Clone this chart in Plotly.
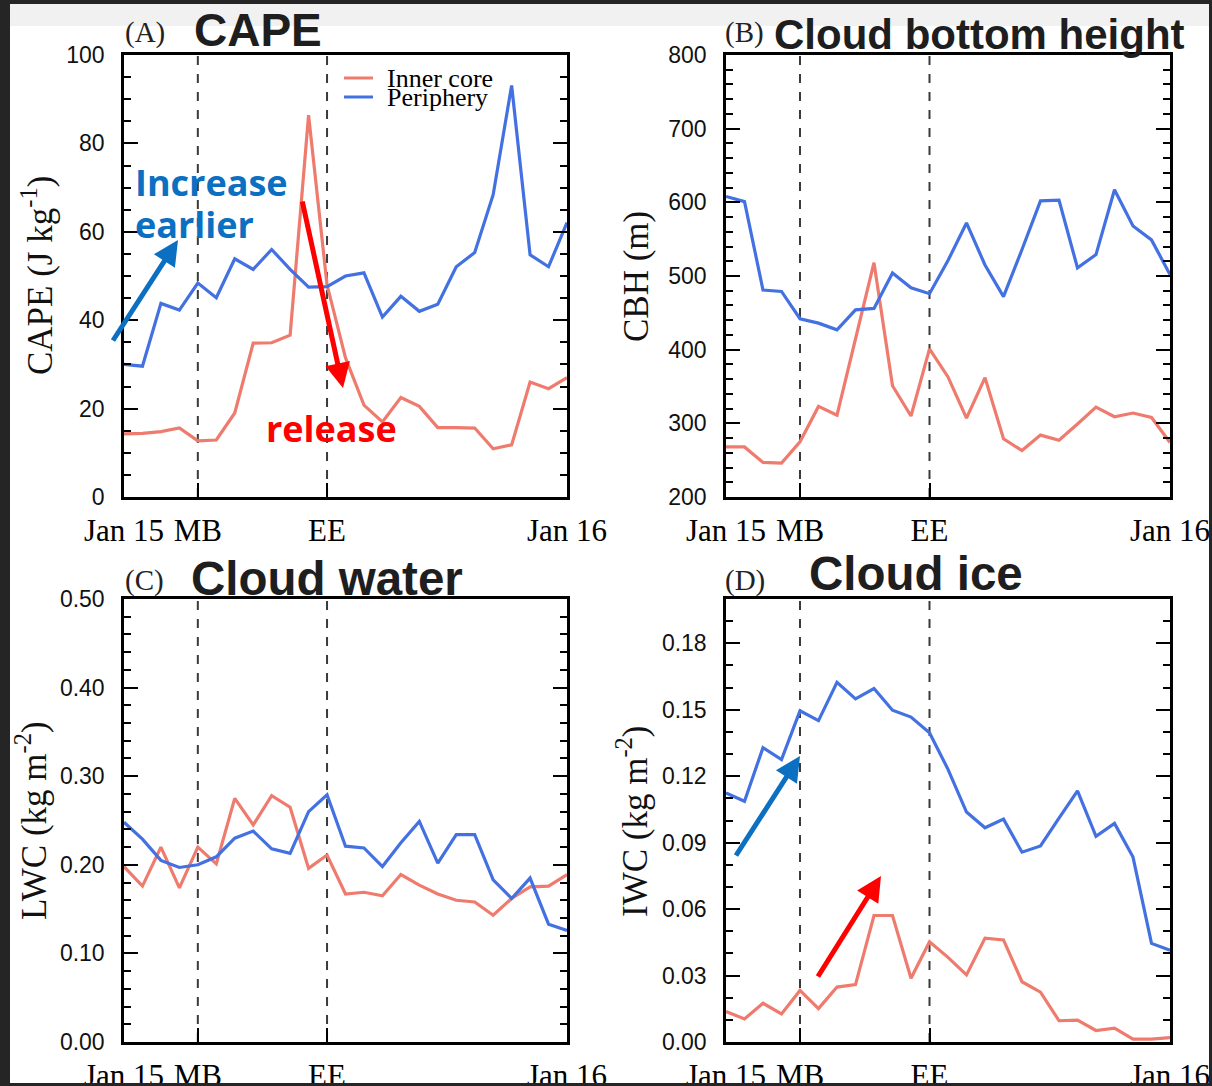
import plotly.graph_objects as go

W, H = 1212, 1086

# ---------------- data (hourly, Jan 15 00 UTC -> Jan 16 00 UTC) ----------------
hours = list(range(25))
MB_HOUR = 4
EE_HOUR = 11
x_tickvals = [0, MB_HOUR, EE_HOUR, 24]
x_ticktext = ["Jan 15", "MB", "EE", "Jan 16"]

cape_inner = [14.3, 14.4, 14.8, 15.6, 12.7, 12.9, 19.0, 34.8, 34.9, 36.6, 86.4, 48.0,
              31.5, 20.8, 17.0, 22.5, 20.5, 15.7, 15.7, 15.6, 10.9, 11.8, 26.0, 24.5, 27.0]
cape_peri = [30.0, 29.6, 43.8, 42.3, 48.4, 45.1, 53.9, 51.5, 56.0, 51.5, 47.5, 47.6,
             50.0, 50.7, 40.7, 45.4, 42.0, 43.6, 52.1, 55.3, 68.4, 93.1, 54.8, 52.1, 62.1]

cbh_inner = [268, 268, 247, 246, 275, 323, 311, 415, 518, 351, 310, 401,
             363, 307, 362, 279, 263, 284, 277, 299, 322, 309, 314, 308, 274]
cbh_peri = [608, 601, 481, 479, 442, 436, 427, 454, 456, 504, 484, 476,
            521, 572, 515, 472, 536, 602, 603, 511, 529, 617, 568, 549, 502]

lwc_inner = [0.198, 0.176, 0.220, 0.174, 0.220, 0.201, 0.275, 0.245, 0.278, 0.265, 0.196, 0.211,
             0.167, 0.169, 0.165, 0.189, 0.177, 0.167, 0.160, 0.158, 0.143, 0.162, 0.175, 0.176, 0.189]
lwc_peri = [0.248, 0.229, 0.205, 0.197, 0.200, 0.209, 0.230, 0.238, 0.218, 0.213, 0.260, 0.279,
            0.221, 0.219, 0.198, 0.225, 0.249, 0.202, 0.234, 0.234, 0.183, 0.162, 0.185, 0.133, 0.126]

iwc_inner = [0.0138, 0.0104, 0.0175, 0.0127, 0.0233, 0.0151, 0.0248, 0.0259, 0.0571, 0.0571, 0.0288, 0.0453,
             0.0382, 0.0303, 0.0469, 0.0461, 0.0272, 0.0225, 0.0096, 0.0099, 0.0052, 0.0063, 0.0013, 0.0013, 0.0020]
iwc_peri = [0.1124, 0.1087, 0.1329, 0.1275, 0.1495, 0.1451, 0.1624, 0.1549, 0.1596, 0.1498, 0.1467, 0.1396,
            0.1231, 0.1038, 0.0967, 0.1006, 0.0857, 0.0885, 0.1011, 0.1134, 0.0929, 0.0987, 0.0835, 0.0445, 0.0414]

series_names = ["Inner core", "Periphery"]

# ---------------- styling ----------------
RED = "#ee7b6d"
BLUE = "#4371e2"
SERIF = "Liberation Serif"
SANS = "Liberation Sans"


def px(x):
    return x / W


def py(y):
    return 1 - y / H


# panel boxes in pixels: (left, right, top, bottom)
boxes = {
    "A": (124, 567, 55, 497),
    "B": (726, 1170, 55, 497),
    "C": (124, 567, 599, 1042),
    "D": (726, 1170, 599, 1042),
}

panels = [
    ("A", cape_inner, cape_peri, [0, 100], 20, 5, None),
    ("B", cbh_inner, cbh_peri, [200, 800], 100, 20, None),
    ("C", lwc_inner, lwc_peri, [0, 0.5], 0.1, 0.02, ".2f"),
    ("D", iwc_inner, iwc_peri, [0, 0.2], 0.03, 0.01, ".2f"),
]

fig = go.Figure()
layout = dict(
    width=W, height=H, autosize=False,
    margin=dict(l=0, r=0, t=0, b=0, pad=0, autoexpand=False),
    paper_bgcolor="white",
    plot_bgcolor="white",
    showlegend=False,
)

shapes = []
annotations = []

for i, (key, inner, peri, yr, dt, mdt, fmt) in enumerate(panels):
    n = "" if i == 0 else str(i + 1)
    xa, ya = "x" + n, "y" + n
    l, r, t, b = boxes[key]
    fig.add_trace(go.Scatter(x=hours, y=inner, mode="lines", name=series_names[0],
                             line=dict(color=RED, width=3.2), xaxis=xa, yaxis=ya))
    fig.add_trace(go.Scatter(x=hours, y=peri, mode="lines", name=series_names[1],
                             line=dict(color=BLUE, width=3.2), xaxis=xa, yaxis=ya))
    layout["xaxis" + n] = dict(
        domain=[px(l), px(r)], anchor=ya, range=[0, 24], automargin=False,
        tickmode="array", tickvals=x_tickvals, ticktext=x_ticktext,
        ticks="inside", ticklen=14, tickwidth=2, tickcolor="black",
        showline=True, linecolor="black", linewidth=2.5, mirror=True,
        showgrid=False, zeroline=False,
        tickfont=dict(family=SERIF, size=31, color="black"),
        ticklabelstandoff=4,
    )
    yd = dict(
        domain=[py(b), py(t)], anchor=xa, range=yr, automargin=False,
        tickmode="linear", tick0=yr[0], dtick=dt,
        ticks="inside", ticklen=14, tickwidth=2, tickcolor="black",
        minor=dict(ticks="inside", ticklen=7, tickwidth=1.5, tickcolor="black", dtick=mdt, tick0=yr[0]),
        showline=True, linecolor="black", linewidth=2.5, mirror="allticks",
        showgrid=False, zeroline=False,
        tickfont=dict(family=SANS, size=23, color="#111111"),
        ticklabelstandoff=12,
    )
    if fmt:
        yd["tickformat"] = fmt
    layout["yaxis" + n] = yd
    # MB / EE dashed markers
    for xv in (MB_HOUR, EE_HOUR):
        shapes.append(dict(type="line", xref=xa, yref=ya + " domain", x0=xv, x1=xv, y0=0, y1=1,
                           line=dict(color="#3a3a3a", width=2, dash="dash"), layer="below"))

# panel letters and titles
letters = [("(A)", 123, 33), ("(B)", 723, 33), ("(C)", 123, 580), ("(D)", 723, 580)]
for txt, x, y in letters:
    annotations.append(dict(text=txt, x=px(x), y=py(y), xref="paper", yref="paper",
                            xanchor="left", yanchor="middle", showarrow=False,
                            font=dict(family=SERIF, size=29, color="#222")))
titles = [("CAPE", 192, 30, 46), ("Cloud bottom height", 772, 34, 42),
          ("Cloud water", 189, 578, 47.5), ("Cloud ice", 807, 573, 47.5)]
for txt, x, y, s in titles:
    annotations.append(dict(text="<b>" + txt + "</b>", x=px(x), y=py(y), xref="paper", yref="paper",
                            xanchor="left", yanchor="middle", showarrow=False,
                            font=dict(family=SANS, size=s, color="#1e1e1e")))

# y-axis titles
ytitles = [("CAPE (J kg<sup>-1</sup>)", 37, 276), ("CBH (m)", 636, 277),
           ("LWC (kg m<sup>-2</sup>)", 31, 821), ("IWC (kg m<sup>-2</sup>)", 632, 821)]
for txt, x, y in ytitles:
    annotations.append(dict(text=txt, x=px(x), y=py(y), xref="paper", yref="paper",
                            xanchor="center", yanchor="middle", textangle=-90, showarrow=False,
                            font=dict(family=SERIF, size=35, color="#111")))

# legend (panel A)
leg = [(series_names[0], RED, 78), (series_names[1], BLUE, 97)]
for name, col, y in leg:
    shapes.append(dict(type="line", xref="paper", yref="paper", x0=px(344), x1=px(373),
                       y0=py(y), y1=py(y), line=dict(color=col, width=3)))
    annotations.append(dict(text=name, x=px(385), y=py(y), xref="paper", yref="paper",
                            xanchor="left", yanchor="middle", showarrow=False,
                            font=dict(family=SERIF, size=26, color="black")))

# highlight annotations
ANN_BLUE = "#0b6fc2"
ANN_RED = "#ff0000"
annotations += [
    dict(text="<b>Increase</b>", x=px(133), y=py(182), xref="paper", yref="paper",
         xanchor="left", yanchor="middle", showarrow=False,
         font=dict(family="Open Sans", size=36, color=ANN_BLUE)),
    dict(text="<b>earlier</b>", x=px(133), y=py(224), xref="paper", yref="paper",
         xanchor="left", yanchor="middle", showarrow=False,
         font=dict(family="Open Sans", size=36, color=ANN_BLUE)),
    dict(text="<b>release</b>", x=px(264), y=py(428), xref="paper", yref="paper",
         xanchor="left", yanchor="middle", showarrow=False,
         font=dict(family="Open Sans", size=36, color=ANN_RED)),
]
arrows = [((112, 342), (178, 240), ANN_BLUE), ((302, 200), (343, 388), ANN_RED),
          ((735, 857), (800, 756), ANN_BLUE), ((817, 978), (881, 876), ANN_RED)]
for (tx, ty), (hx, hy), col in arrows:
    annotations.append(dict(text="", x=px(hx), y=py(hy), xref="paper", yref="paper",
                            ax=tx - hx, ay=ty - hy, axref="pixel", ayref="pixel",
                            showarrow=True, arrowhead=2, arrowsize=1.0, arrowwidth=5,
                            arrowcolor=col))

# dark screenshot frame
FRAME = "#252525"
for x0, y0, x1, y1 in [(0, 0, 10, H), (0, 0, W, 4), (1209, 0, W, H), (0, 1083, W, H)]:
    shapes.append(dict(type="rect", xref="paper", yref="paper", x0=px(x0), x1=px(x1),
                       y0=py(y1), y1=py(y0), fillcolor=FRAME, line=dict(width=0), layer="above"))
# faint header band
shapes.append(dict(type="rect", xref="paper", yref="paper", x0=px(10), x1=px(1209),
                   y0=py(26), y1=py(4), fillcolor="#f1f1f1", line=dict(width=0), layer="below"))

layout["shapes"] = shapes
layout["annotations"] = annotations
fig.update_layout(**layout)
fig.write_html("out.html")
